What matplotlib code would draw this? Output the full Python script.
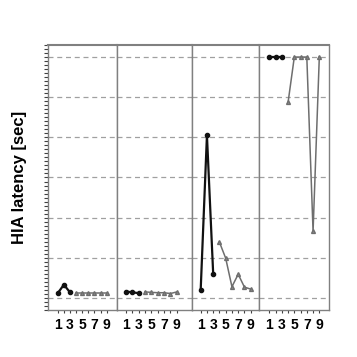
import matplotlib
matplotlib.use("Agg")
import matplotlib.pyplot as plt
from matplotlib.ticker import MultipleLocator, FixedLocator, NullFormatter

# black series: trials 1-3, gray series: trials 4-9, one panel per condition
black_x = [1, 2, 3]
gray_x = [4, 5, 6, 7, 8, 9]
black_vals = [
    [0.12, 0.33, 0.14],
    [0.16, 0.14, 0.12],
    [0.20, 4.05, 0.60],
    [6.00, 6.00, 6.00],
]
gray_vals = [
    [0.13, 0.13, 0.13, 0.13, 0.13, 0.13],
    [0.15, 0.14, 0.13, 0.13, 0.11, 0.15],
    [1.39, 0.99, 0.28, 0.59, 0.27, 0.22],
    [4.87, 6.00, 6.00, 6.00, 1.66, 6.00],
]
xtick_labels = ["1", "3", "5", "7", "9"]
ylabel = "HIA latency [sec]"

W = 357.0
# panel edges in pixels, and x ranges
edges = [48, 117, 192, 259, 329]
xlims = [(-0.6, 10.7), (-0.42, 11.4), (-0.39, 10.33), (-0.65, 10.55)]
top_px, bot_px = 45, 310

fig = plt.figure(figsize=(3.57, 3.57), dpi=100)
spine_col = "#808080"

for i in range(4):
    l = edges[i] / W
    w = (edges[i + 1] - edges[i]) / W
    b = 1 - bot_px / W
    h = (bot_px - top_px) / W
    ax = fig.add_axes([l, b, w, h])
    ax.set_xlim(*xlims[i])
    ax.set_ylim(-0.3, 6.3)

    for y in range(7):
        ax.axhline(y, color="#a0a0a0", lw=0.9, ls=(0, (4, 3)), zorder=0)

    ax.plot(black_x, black_vals[i], color="#111111", lw=1.6, marker="o",
            ms=3, zorder=3)
    ax.plot(gray_x, gray_vals[i], color="#6e6e6e", lw=1.1, marker="^",
            ms=2.8, mfc="#8a8a8a", mec="#6e6e6e", zorder=2)

    ax.xaxis.set_major_locator(FixedLocator([1, 3, 5, 7, 9]))
    ax.xaxis.set_minor_locator(FixedLocator([2, 4, 6, 8]))
    ax.set_xticklabels(xtick_labels, fontsize=10, fontweight="bold",
                       family="Liberation Sans")
    ax.tick_params(axis="x", which="both", length=2, width=0.8,
                   color="#404040", pad=4)

    if i == 0:
        ax.yaxis.set_major_locator(MultipleLocator(1))
        ax.yaxis.set_minor_locator(MultipleLocator(0.1))
        ax.yaxis.set_major_formatter(NullFormatter())
        ax.tick_params(axis="y", which="both", length=3, width=0.8,
                       color="#404040")
        ax.set_ylabel(ylabel, fontsize=12, fontweight="bold",
                      family="Liberation Sans")
        ax.yaxis.set_label_coords(-0.31, 0.5)
    else:
        ax.set_yticks([])

    for s in ax.spines.values():
        s.set_color(spine_col)
        s.set_linewidth(1.0)
    ax.spines["top"].set_linewidth(1.5)

plt.savefig("out.png", dpi=100)
